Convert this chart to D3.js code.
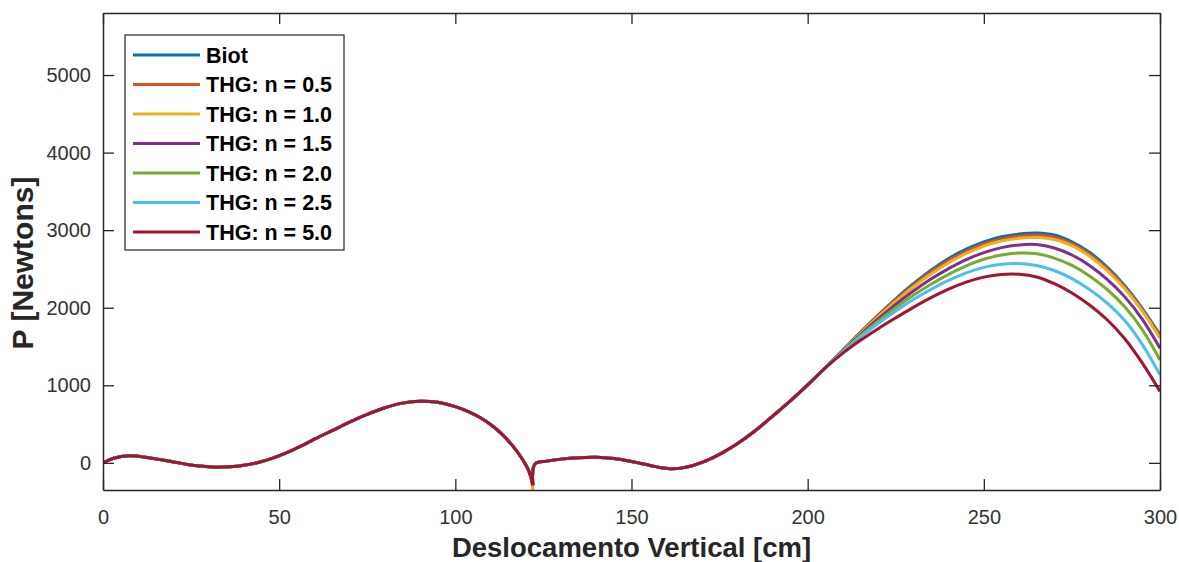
<!DOCTYPE html>
<html>
<head>
<meta charset="utf-8">
<script src="https://cdn.jsdelivr.net/npm/d3@7"></script>
<style>
  body { margin: 0; background: #fff; }
  svg { font-family: "Liberation Sans", Arial, sans-serif; }
  .axis text { font-size: 20px; fill: #333; }
  .axis path, .axis line { stroke: #262626; }
</style>
</head>
<body>
<script>
// shared part of all curves (the models agree up to ~205 cm)
var xHead = [0, 3, 7.5, 12, 20, 26, 32, 36, 40, 44, 48, 52, 56, 60, 65, 70, 75, 80, 85, 90, 95, 100,
  104, 107, 110, 113, 116, 119, 121, 122, 122.6, 126, 130, 135, 140, 145, 150, 155, 158, 161, 164,
  167, 170, 173, 176, 180, 185, 190, 195, 200, 205];
var yHead = [0, 60, 90, 72, 12, -35, -56, -50, -30, 5, 58, 128, 212, 305, 415, 525, 625, 710, 770, 795, 780, 725,
  655, 585, 495, 380, 235, 50, -120, -290, -15, 22, 48, 67, 72, 55, 18, -30, -60, -75, -68,
  -40, 5, 65, 135, 245, 410, 600, 795, 1005, 1225];

// depth of the cusp at 122 cm, one per series
var dipValues = [-290, -290, -350, -290, -290, -290, -290];

// tail where the curves split
var xTail = [210, 215, 220, 225, 230, 235, 240, 245, 250, 255, 260, 265, 270, 275, 280, 285, 290, 295, 300];
var biot = [1455, 1685, 1905, 2115, 2310, 2485, 2635, 2755, 2850, 2915, 2950, 2963, 2938, 2850, 2715, 2525, 2285, 1990, 1650];
var n05  = [1452, 1678, 1895, 2100, 2290, 2460, 2608, 2728, 2823, 2888, 2923, 2935, 2910, 2828, 2690, 2503, 2265, 1973, 1635];
var n10  = [1448, 1670, 1882, 2082, 2268, 2435, 2580, 2700, 2795, 2860, 2895, 2905, 2880, 2800, 2665, 2480, 2245, 1955, 1610];
var n15  = [1442, 1655, 1855, 2042, 2215, 2370, 2505, 2620, 2710, 2775, 2810, 2815, 2770, 2680, 2545, 2365, 2140, 1850, 1478];
var n20  = [1437, 1640, 1826, 2000, 2160, 2302, 2430, 2540, 2625, 2680, 2705, 2695, 2640, 2545, 2410, 2235, 2012, 1715, 1327];
var n25  = [1430, 1622, 1796, 1958, 2107, 2237, 2353, 2450, 2520, 2560, 2570, 2545, 2480, 2375, 2235, 2060, 1835, 1525, 1135];
var n50  = [1415, 1580, 1730, 1870, 2005, 2130, 2240, 2330, 2395, 2430, 2432, 2397, 2310, 2190, 2035, 1845, 1600, 1285, 920];

var names = ['Biot', 'THG: n = 0.5', 'THG: n = 1.0', 'THG: n = 1.5', 'THG: n = 2.0', 'THG: n = 2.5', 'THG: n = 5.0'];
var tails = [biot, n05, n10, n15, n20, n25, n50];
var colors = ['#0072BD', '#D95319', '#EDB120', '#7E2F8E', '#77AC30', '#4DBEEE', '#A2142F'];

var xTicks = [0, 50, 100, 150, 200, 250, 300];
var yTicks = [0, 1000, 2000, 3000, 4000, 5000];

var width = 1179, height = 562;
var margin = {top: 13, right: 19, bottom: 72, left: 103};

var svg = d3.select('body').append('svg')
  .attr('width', width)
  .attr('height', height);

var x = d3.scaleLinear().domain([0, 300]).range([margin.left, width - margin.right]);
var y = d3.scaleLinear().domain([-350, 5800]).range([height - margin.bottom, margin.top]);

// build series points, split at the cusp so the spline keeps it sharp
var series = names.map(function(name, i) {
  var pts = xHead.map(function(xv, j) {
    var yv = (xv === 122) ? dipValues[i] : yHead[j];
    return [xv, yv];
  });
  xTail.forEach(function(xv, j) { pts.push([xv, tails[i][j]]); });
  var left = pts.filter(function(p) { return p[0] <= 122; });
  var right = pts.filter(function(p) { return p[0] >= 122; });
  return {name: name, color: colors[i], parts: [left, right]};
});

var line = d3.line()
  .x(function(d) { return x(d[0]); })
  .y(function(d) { return y(d[1]); })
  .curve(d3.curveCatmullRom.alpha(0.5));

svg.append('defs').append('clipPath').attr('id', 'clip')
  .append('rect')
    .attr('x', margin.left).attr('y', margin.top)
    .attr('width', x(300) - x(0)).attr('height', y(-350) - y(5800));

var g = svg.append('g').attr('clip-path', 'url(#clip)');

g.selectAll('path.series')
  .data(series)
  .enter()
  .append('path')
    .attr('class', 'series')
    .attr('d', function(d) { return line(d.parts[0]) + line(d.parts[1]); })
    .attr('fill', 'none')
    .attr('stroke', function(d) { return d.color; })
    .attr('stroke-width', 3)
    .attr('stroke-linejoin', 'round');

// axes with inward ticks, MATLAB style box
var tickLen = 11;
svg.append('g').attr('class', 'axis')
  .attr('transform', 'translate(0,' + y(-350) + ')')
  .call(d3.axisBottom(x).tickValues(xTicks).tickSizeInner(-tickLen).tickSizeOuter(0).tickPadding(20));
svg.append('g').attr('class', 'axis')
  .attr('transform', 'translate(0,' + y(5800) + ')')
  .call(d3.axisTop(x).tickValues(xTicks).tickSizeInner(-tickLen).tickSizeOuter(0).tickFormat(''));
svg.append('g').attr('class', 'axis')
  .attr('transform', 'translate(' + x(0) + ',0)')
  .call(d3.axisLeft(y).tickValues(yTicks).tickFormat(d3.format('d')).tickSizeInner(-tickLen).tickSizeOuter(0).tickPadding(12));
svg.append('g').attr('class', 'axis')
  .attr('transform', 'translate(' + x(300) + ',0)')
  .call(d3.axisRight(y).tickValues(yTicks).tickSizeInner(-tickLen).tickSizeOuter(0).tickFormat(''));

svg.selectAll('.axis path').attr('stroke-width', 1.5);
svg.selectAll('.axis line').attr('stroke-width', 1.3);

// axis labels
svg.append('text')
  .attr('x', (x(0) + x(300)) / 2)
  .attr('y', 557)
  .attr('text-anchor', 'middle')
  .style('font-size', '27.5px')
  .style('font-weight', 'bold')
  .style('fill', '#262626')
  .text('Deslocamento Vertical [cm]');

svg.append('text')
  .attr('transform', 'translate(33,263) rotate(-90)')
  .attr('text-anchor', 'middle')
  .style('font-size', '30px')
  .style('font-weight', 'bold')
  .style('fill', '#262626')
  .text('P [Newtons]');

// legend
var legend = svg.append('g').attr('transform', 'translate(125,35)');
legend.append('rect')
  .attr('width', 219).attr('height', 215)
  .attr('fill', '#fff')
  .attr('stroke', '#262626')
  .attr('stroke-width', 1.2);

var rows = legend.selectAll('g.row')
  .data(series)
  .enter()
  .append('g')
    .attr('class', 'row')
    .attr('transform', function(d, i) { return 'translate(0,' + (20 + i * 29.5) + ')'; });

rows.append('line')
  .attr('x1', 8).attr('x2', 75)
  .attr('stroke', function(d) { return d.color; })
  .attr('stroke-width', 3);

rows.append('text')
  .attr('x', 81)
  .attr('dy', '0.36em')
  .style('font-size', '21.5px')
  .style('font-weight', 'bold')
  .style('fill', '#000')
  .text(function(d) { return d.name; });
</script>
</body>
</html>
